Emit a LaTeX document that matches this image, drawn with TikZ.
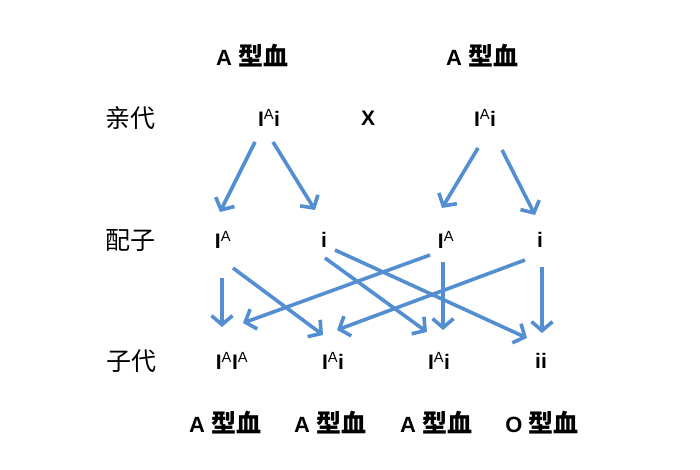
\documentclass[tikz,border=0pt]{standalone}
\usepackage{fontspec}
\setmainfont{Liberation Sans}
\newfontfamily\cjk{Noto Sans CJK SC}
\usetikzlibrary{arrows.meta,calc}
\definecolor{arrowblue}{RGB}{84,142,210}
\newcommand{\IA}{I\textsuperscript{\mdseries A}}
\newcommand{\xing}{{\fontsize{25}{27}\selectfont\cjk 型血}}
\begin{document}
\begin{tikzpicture}[x=1pt,y=-1pt,
  gene/.style={inner sep=0pt,font=\fontsize{21}{25}\selectfont\bfseries},
  blood/.style={inner sep=0pt,font=\fontsize{22}{25}\selectfont\bfseries},
  gen/.style={inner sep=0pt,font=\fontsize{25}{28}\selectfont\cjk},
  arr/.style={draw=arrowblue,line width=3.6pt,-{Straight Barb[length=9pt,width=21pt]}}]
\fill[white] (0,0) rectangle (700,470);
% top labels
\node[blood] (t1) at (252,56) {A \xing};
\node[blood] (t2) at (482,56) {A \xing};
% generation labels
\node[gen] (l1) at (130,118) {亲代};
\node[gen] (l2) at (130,240) {配子};
\node[gen] (l3) at (131,361) {子代};
% parents
\node[gene] (p1) at (269,118) {\IA i};
\node[gene] (x) at (368,118) {X};
\node[gene] (p2) at (485,118) {\IA i};
% gametes
\node[gene] (g1) at (223,240) {\IA};
\node[gene] (g2) at (324,240) {i};
\node[gene] (g3) at (446,240) {\IA};
\node[gene] (g4) at (540,240) {i};
% children
\node[gene] (c1) at (232,361) {\IA\IA};
\node[gene] (c2) at (333,361) {\IA i};
\node[gene] (c3) at (439,361) {\IA i};
\node[gene] (c4) at (541,361) {ii};
% bottom labels
\node[blood] (b1) at (225,423) {A \xing};
\node[blood] (b2) at (330,423) {A \xing};
\node[blood] (b3) at (436,423) {A \xing};
\node[blood] (b4) at (542,423) {O \xing};
% parent -> gamete
\draw[arr] ($(p1)+(-14,24)$) -- ($(g1)+(-3,-28)$);
\draw[arr] ($(p1)+(4,24)$) -- ($(g2)+(-9,-30)$);
\draw[arr] ($(p2)+(-7,30)$) -- ($(g3)+(-4,-32)$);
\draw[arr] ($(p2)+(17,32)$) -- ($(g4)+(-5,-25)$);
% gamete -> child
\draw[arr] ($(g1)+(-1,38)$) -- ($(c1)+(-10,-34)$);
\draw[arr] ($(g1)+(10,28)$) -- ($(c2)+(-10,-26)$);
\draw[arr] ($(g2)+(1,18)$) -- ($(c3)+(-12,-29)$);
\draw[arr] ($(g2)+(11,10)$) -- ($(c4)+(-14,-23)$);
\draw[arr] ($(g3)+(-16,15)$) -- ($(c1)+(11,-38)$);
\draw[arr] ($(g3)+(-3,22)$) -- ($(c3)+(4,-31)$);
\draw[arr] ($(g4)+(-15,20)$) -- ($(c2)+(4,-31)$);
\draw[arr] ($(g4)+(2,27)$) -- ($(c4)+(1,-28)$);
\end{tikzpicture}
\end{document}
